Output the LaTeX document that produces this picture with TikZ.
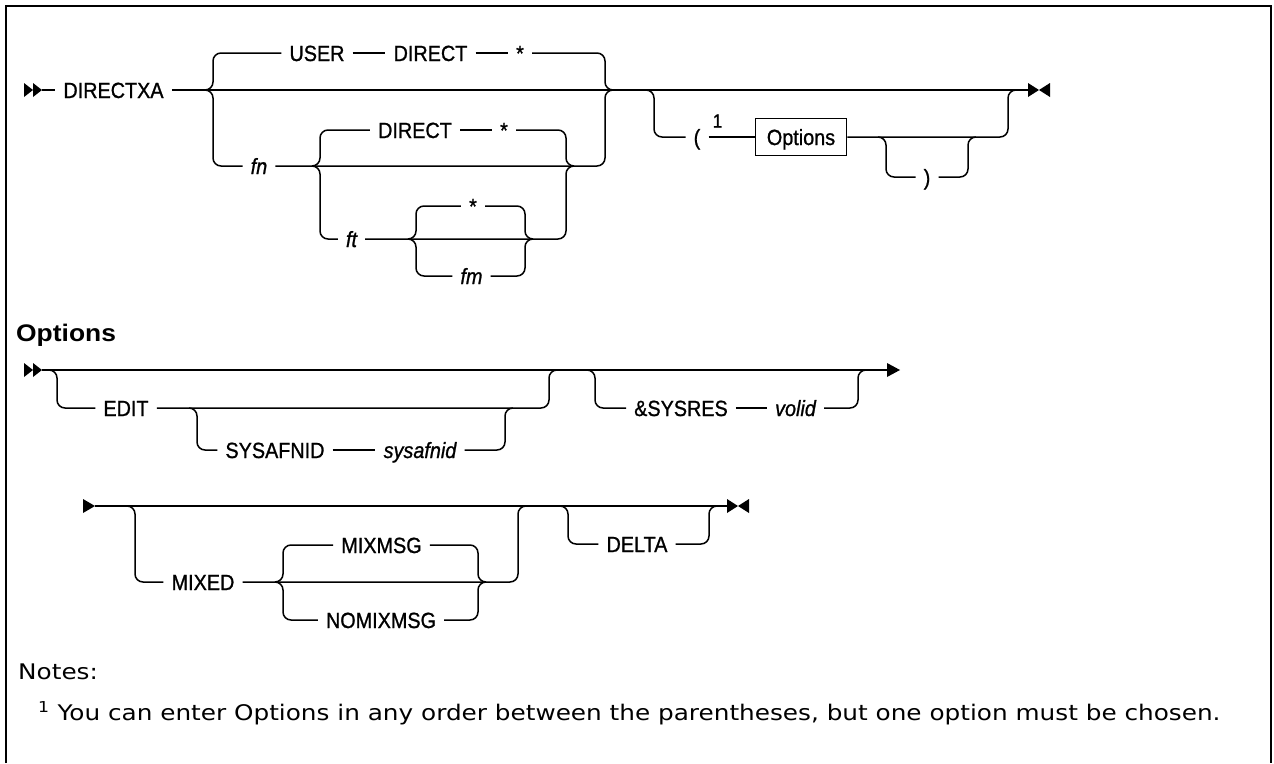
\documentclass[tikz,border=0pt]{standalone}
\usepackage{fontspec}
\newfontfamily\railfont[FakeStretch=0.9, FakeBold=1]{Liberation Sans}
\newfontfamily\headfont[FakeStretch=1.1]{Liberation Sans}
\newfontfamily\notefont[FakeStretch=1.15]{DejaVu Sans}
\usetikzlibrary{calc}

\begin{document}
\begin{tikzpicture}[x=1pt, y=-1pt,
    rail/.style={line width=1.5pt, rounded corners=8pt},
    kw/.style={font=\railfont\fontsize{22}{26}\selectfont, inner xsep=8pt, inner ysep=0pt, text height=16pt, text depth=0pt},
    var/.style={kw, font=\railfont\itshape\fontsize{22}{26}\selectfont},
    optbox/.style={kw, draw, line width=1.5pt, inner xsep=11.5pt, minimum height=37pt},
    notetext/.style={font=\notefont\fontsize{21.5}{26}\selectfont, inner sep=0pt, anchor=base west}]

    \useasboundingbox (0,0) rectangle (1274,763);
    % frame, open at the bottom
    \draw[line width=2pt] (6,763) -- (6,6) -- (1271,6) -- (1271,763);

    % DIRECTXA main line
    \fill (24,83) -- (33,90) -- (24,97) -- cycle;
    \fill (33,83) -- (42,90) -- (33,97) -- cycle;
    \coordinate (s1) at (42,90);
    \coordinate (e1) at (1028,90);
    \node[kw] (dirx) at (113.5,90) {DIRECTXA};
    \draw[rail] (s1) -- (dirx.west);
    \draw[rail] (dirx.east) -- (e1);
    \fill (1028,83) -- (1039,90) -- (1028,97) -- cycle;
    \fill (1050,83) -- (1039,90) -- (1050,97) -- cycle;

    % first choice: USER DIRECT * / fn ...
    \coordinate (c1l) at (213,90);
    \coordinate (c1r) at (605,90);
    \node[kw] (user) at (317,53) {USER};
    \node[kw] (dir1) at (430.5,53) {DIRECT};
    \node[kw] (st1) at (520,53) {*};
    \node[var] (fn) at (259,166) {fn};
    \draw[rail] ([xshift=-8pt]c1l) -- (c1l) |- (user.west);
    \draw[rail] (user.east) -- (dir1.west);
    \draw[rail] (dir1.east) -- (st1.west);
    \draw[rail] (st1.east) -| (c1r) -- ([xshift=8pt]c1r);
    \draw[rail] ([xshift=-8pt]c1l) -- (c1l) |- (fn.west);

    % second choice: DIRECT * / ft ...
    \coordinate (c2l) at (320,166);
    \coordinate (c2r) at (566,166);
    \node[kw] (dir2) at (415,130) {DIRECT};
    \node[kw] (st2) at (504,130) {*};
    \node[var] (ft) at (351.5,239) {ft};
    \draw[rail] (fn.east) -- (c2r) -| (c1r) -- ([xshift=8pt]c1r);
    \draw[rail] ([xshift=-8pt]c2l) -- (c2l) |- (dir2.west);
    \draw[rail] (dir2.east) -- (st2.west);
    \draw[rail] (st2.east) -| (c2r) -- ([xshift=8pt]c2r);
    \draw[rail] ([xshift=-8pt]c2l) -- (c2l) |- (ft.west);

    % third choice: * / fm
    \coordinate (c3l) at (416,239);
    \coordinate (c3r) at (525,239);
    \node[kw] (st3) at (473,206) {*};
    \node[var] (fm) at (471.5,276) {fm};
    \draw[rail] (ft.east) -- (c3r) -| (c2r) -- ([xshift=8pt]c2r);
    \draw[rail] ([xshift=-8pt]c3l) -- (c3l) |- (st3.west);
    \draw[rail] (st3.east) -| (c3r) -- ([xshift=8pt]c3r);
    \draw[rail] ([xshift=-8pt]c3l) -- (c3l) |- (fm.west);
    \draw[rail] (fm.east) -| (c3r) -- ([xshift=8pt]c3r);

    % optional ( Options )
    \coordinate (o1l) at (654,90);
    \coordinate (o1r) at (1008,90);
    \coordinate (o2l) at (886,137);
    \coordinate (o2r) at (968,137);
    \node[kw] (lpar) at (697,137) {(};
    \node[font=\railfont\fontsize{19}{22}\selectfont, inner sep=0pt] (fn1) at (717.5,121) {1};
    \node[optbox] (opts) at (801,137) {Options};
    \node[kw] (rpar) at (927,177) {)};
    \draw[rail] ([xshift=-8pt]o1l) -- (o1l) |- (lpar.west);
    \draw[rail] (lpar.east) -- (opts.west);
    \draw[rail] (opts.east) -- (o2r) -| (o1r) -- ([xshift=8pt]o1r);
    \draw[rail] ([xshift=-8pt]o2l) -- (o2l) |- (rpar.west);
    \draw[rail] (rpar.east) -| (o2r) -- ([xshift=8pt]o2r);

    % Options fragment, first line
    \node[font=\headfont\bfseries\fontsize{24}{28}\selectfont, inner sep=0pt, anchor=base west] (opthead) at (16,341) {Options};
    \fill (24,363) -- (33,370) -- (24,377) -- cycle;
    \fill (33,363) -- (42,370) -- (33,377) -- cycle;
    \coordinate (s2) at (42,370);
    \coordinate (e2) at (887,370);
    \draw[rail] (s2) -- (e2);
    \fill (887,363) -- (900,370) -- (887,377) -- cycle;

    \coordinate (p1l) at (57,370);
    \coordinate (p1r) at (549,370);
    \coordinate (p2l) at (197,408);
    \coordinate (p2r) at (505,408);
    \node[kw] (edit) at (126,408) {EDIT};
    \node[kw] (safn) at (275,450) {SYSAFNID};
    \node[var] (safnv) at (420,450) {sysafnid};
    \draw[rail] ([xshift=-8pt]p1l) -- (p1l) |- (edit.west);
    \draw[rail] (edit.east) -- (p2r) -| (p1r) -- ([xshift=8pt]p1r);
    \draw[rail] ([xshift=-8pt]p2l) -- (p2l) |- (safn.west);
    \draw[rail] (safn.east) -- (safnv.west);
    \draw[rail] (safnv.east) -| (p2r) -- ([xshift=8pt]p2r);

    \coordinate (p3l) at (595,370);
    \coordinate (p3r) at (858,370);
    \node[kw] (sysres) at (681,408) {\&SYSRES};
    \node[var] (volid) at (795.5,408) {volid};
    \draw[rail] ([xshift=-8pt]p3l) -- (p3l) |- (sysres.west);
    \draw[rail] (sysres.east) -- (volid.west);
    \draw[rail] (volid.east) -| (p3r) -- ([xshift=8pt]p3r);

    % Options fragment, second line
    \fill (83,499) -- (95,506) -- (83,513) -- cycle;
    \coordinate (s3) at (95,506);
    \coordinate (e3) at (727,506);
    \draw[rail] (s3) -- (e3);
    \fill (727,499) -- (738,506) -- (727,513) -- cycle;
    \fill (749,499) -- (738,506) -- (749,513) -- cycle;

    \coordinate (q1l) at (135,506);
    \coordinate (q1r) at (518,506);
    \coordinate (q2l) at (283,582);
    \coordinate (q2r) at (478,582);
    \node[kw] (mixed) at (203,582) {MIXED};
    \node[kw] (mixmsg) at (381.5,545) {MIXMSG};
    \node[kw] (nomix) at (381,620) {NOMIXMSG};
    \draw[rail] ([xshift=-8pt]q1l) -- (q1l) |- (mixed.west);
    \draw[rail] (mixed.east) -- (q2r) -| (q1r) -- ([xshift=8pt]q1r);
    \draw[rail] ([xshift=-8pt]q2l) -- (q2l) |- (mixmsg.west);
    \draw[rail] (mixmsg.east) -| (q2r) -- ([xshift=8pt]q2r);
    \draw[rail] ([xshift=-8pt]q2l) -- (q2l) |- (nomix.west);
    \draw[rail] (nomix.east) -| (q2r) -- ([xshift=8pt]q2r);

    \coordinate (q3l) at (568,506);
    \coordinate (q3r) at (709,506);
    \node[kw] (delta) at (637,544) {DELTA};
    \draw[rail] ([xshift=-8pt]q3l) -- (q3l) |- (delta.west);
    \draw[rail] (delta.east) -| (q3r) -- ([xshift=8pt]q3r);

    % notes
    \node[notetext] (notes) at (18,679) {Notes:};
    \node[notetext] (note1) at (38,720) {\textsuperscript{1} You can enter Options in any order between the parentheses, but one option must be chosen.};
\end{tikzpicture}
\end{document}
